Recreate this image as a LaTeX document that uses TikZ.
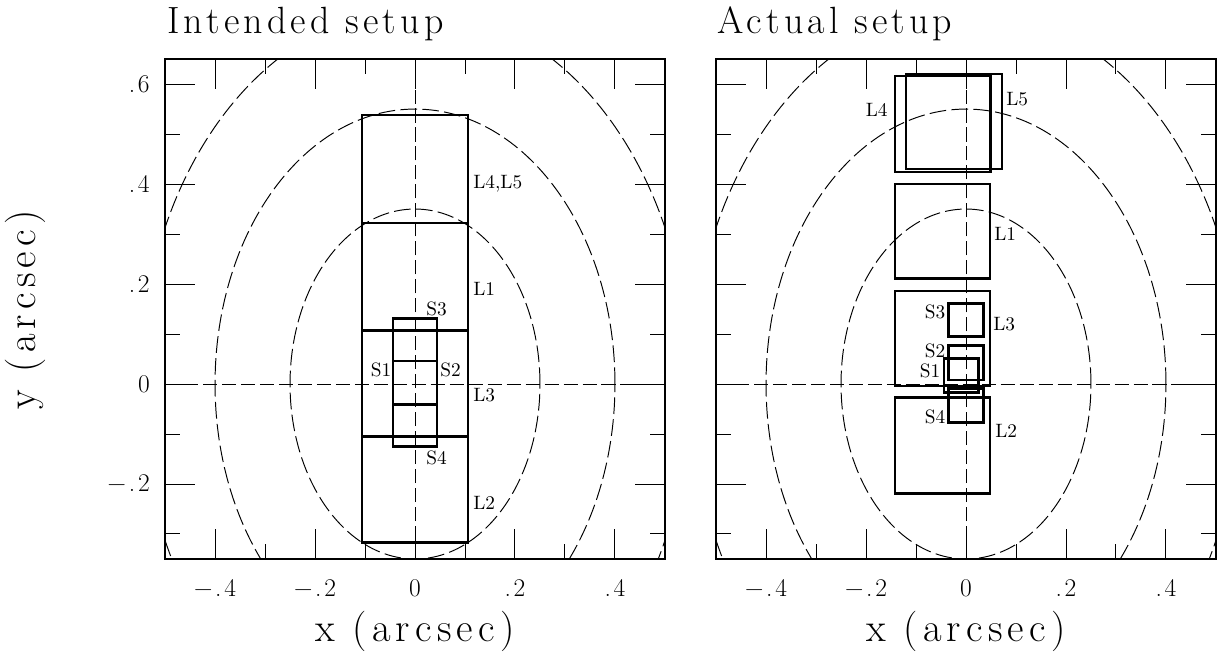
\documentclass[tikz,border=0pt]{standalone}
\usepackage{fontspec}
\setmainfont{Latin Modern Roman}
\newcommand\spaced{\addfontfeatures{LetterSpace=11}}
\newcommand\axspaced{\addfontfeatures{LetterSpace=13}}
\begin{document}
\begin{tikzpicture}[x=0.02cm,y=-0.02cm,
  frame/.style={line width=0.8pt},
  tick/.style={line width=0.55pt},
  contour/.style={line width=0.55pt, dash pattern=on 9.5pt off 3pt},
  axisline/.style={line width=0.5pt, dash pattern=on 8pt off 2.8pt},
  slit/.style={line width=1.2pt},
  ticklab/.style={font=\fontsize{14.5}{17}\selectfont\spaced, inner sep=0pt},
  title/.style={font=\fontsize{21.6}{26}\selectfont\spaced, inner sep=0pt},
  axlab/.style={font=\fontsize{23}{27}\selectfont\axspaced, inner sep=0pt},
  lab/.style={font=\fontsize{11}{13}\selectfont, inner sep=0pt}]
\useasboundingbox (0,0) rectangle (1225,656);

% common axes for both panels
\foreach \ox/\nm in {415/a,966/b}{
  \begin{scope}[shift={(\ox,384)}, x=10cm, y=10cm]
    \draw[frame] (-0.5,-0.35) rectangle (0.5,0.65);
    \foreach \t in {-0.4,-0.2,0,0.2,0.4}{
      \draw[tick] (\t,-0.35) -- ++(0,0.06);
      \draw[tick] (\t,0.65) -- ++(0,-0.06);
    }
    \foreach \t in {-0.3,-0.1,0.1,0.3}{
      \draw[tick] (\t,-0.35) -- ++(0,0.03);
      \draw[tick] (\t,0.65) -- ++(0,-0.03);
    }
    \foreach \t in {-0.2,0,0.2,0.4,0.6}{
      \draw[tick] (-0.5,\t) -- ++(0.06,0);
      \draw[tick] (0.5,\t) -- ++(-0.06,0);
    }
    \foreach \t in {-0.3,-0.1,0.1,0.3,0.5}{
      \draw[tick] (-0.5,\t) -- ++(0.03,0);
      \draw[tick] (0.5,\t) -- ++(-0.03,0);
    }
    \draw[axisline] (-0.5,0) -- (0.5,0);
    \draw[axisline] (0,-0.35) -- (0,0.65);
    \foreach \t/\s [count=\i] in {-0.4/{−.4},-0.2/{−.2},0/0,0.2/{.2},0.4/{.4}}{
      \node[ticklab, anchor=base] (xt\nm\i) at (\t,-0.426) {\s};
    }
    \node[axlab, anchor=base] (xlab\nm) at (0,-0.516) {x (arcsec)};
    \begin{scope}
      \clip (-0.5,-0.35) rectangle (0.5,0.65);
      \draw[contour] (0,0) ellipse [x radius=0.25, y radius=0.35];
      \draw[contour] (0,0) ellipse [x radius=0.4, y radius=0.55];
      \draw[contour] (0,0) ellipse [x radius=0.55, y radius=0.75];
    \end{scope}
  \end{scope}
}

% y tick labels and intended setup (left panel)
\begin{scope}[shift={(415,384)}, x=10cm, y=10cm]
  \foreach \t/\s [count=\i] in {-0.2/{−.2},0/0,0.2/{.2},0.4/{.4},0.6/{.6}}{
    \node[ticklab, anchor=base east] (yt\i) at (-0.53,\t-0.016) {\s};
  }
  % long slit boxes
  \draw[slit] (-0.1067,0.3227) rectangle (0.1067,0.538);
  \draw[slit] (-0.1067,0.107) rectangle (0.1067,0.3227);
  \draw[slit] (-0.1067,-0.105) rectangle (0.1067,0.107);
  \draw[slit] (-0.1067,-0.317) rectangle (0.1067,-0.105);
  % short slit boxes
  \draw[slit] (-0.0433,0.046) rectangle (0.0433,0.131);
  \draw[slit] (-0.0433,-0.041) rectangle (0.0433,0.046);
  \draw[slit] (-0.0433,-0.125) rectangle (0.0433,-0.041);
\end{scope}
\node[axlab, anchor=base, rotate=90] (ylab) at (35.5,310) {y (arcsec)};

% actual setup
\begin{scope}[shift={(966,384)}, x=10cm, y=10cm]
  \draw[slit] (-0.142,0.424) rectangle (0.049,0.616);
  \draw[slit] (-0.12,0.43) rectangle (0.072,0.621);
  \draw[slit] (-0.142,0.211) rectangle (0.048,0.40);
  \draw[slit] (-0.142,-0.004) rectangle (0.048,0.186);
  \draw[slit] (-0.142,-0.219) rectangle (0.048,-0.027);
  \draw[slit] (-0.035,0.095) rectangle (0.035,0.161);
  \draw[slit] (-0.035,0.008) rectangle (0.035,0.077);
  \draw[slit] (-0.044,-0.017) rectangle (0.025,0.051);
  \draw[slit] (-0.035,-0.077) rectangle (0.035,-0.009);
\end{scope}

% titles
\node[title, anchor=base west] (t1) at (167,33) {Intended setup};
\node[title, anchor=base west] (t2) at (717,33) {Actual setup};

% labels, left panel
\node[lab, anchor=base west] (aL45) at (473,188) {L4,L5};
\node[lab, anchor=base west] (aL1) at (473,295) {L1};
\node[lab, anchor=base] (aS3) at (436.5,315) {S3};
\node[lab, anchor=base] (aS1) at (381,376.7) {S1};
\node[lab, anchor=base] (aS2) at (450.5,376.7) {S2};
\node[lab, anchor=base west] (aL3) at (473,401.7) {L3};
\node[lab, anchor=base] (aS4) at (436.5,464) {S4};
\node[lab, anchor=base west] (aL2) at (473,509) {L2};

% labels, right panel
\node[lab, anchor=base] (bL4) at (876.7,116) {L4};
\node[lab, anchor=base west] (bL5) at (1006,105) {L5};
\node[lab, anchor=base west] (bL1) at (994,240) {L1};
\node[lab, anchor=base] (bS3) at (935,318) {S3};
\node[lab, anchor=base west] (bL3) at (993,330) {L3};
\node[lab, anchor=base] (bS2) at (935,357) {S2};
\node[lab, anchor=base] (bS1) at (930,377) {S1};
\node[lab, anchor=base] (bS4) at (935,423) {S4};
\node[lab, anchor=base west] (bL2) at (995,437) {L2};
\end{tikzpicture}
\end{document}
